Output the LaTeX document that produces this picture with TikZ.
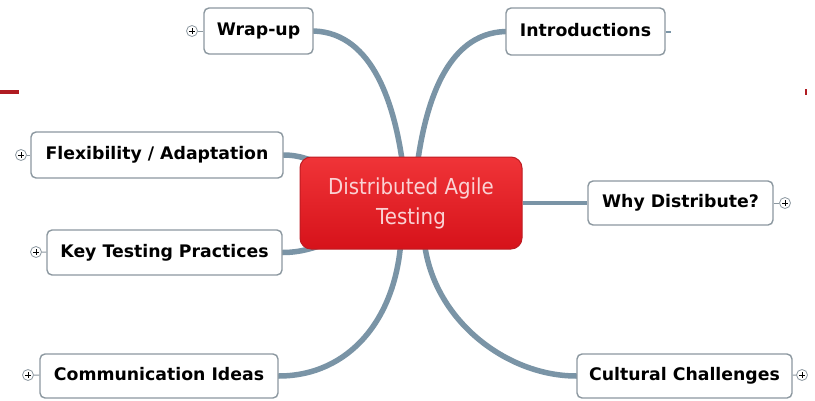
\documentclass[tikz,border=0pt]{standalone}
\usepackage{fontspec}
\setmainfont{DejaVu Sans}
\newfontfamily\centfont[FakeStretch=0.9]{DejaVu Sans}
\usetikzlibrary{calc,backgrounds}
\definecolor{conn}{RGB}{122,148,166}
\definecolor{boxline}{RGB}{140,152,160}
\definecolor{redtop}{RGB}{240,52,56}
\definecolor{redbot}{RGB}{214,18,26}
\definecolor{redline}{RGB}{190,28,34}
\definecolor{ctext}{RGB}{250,210,212}
\definecolor{barred}{RGB}{176,28,34}
\tikzset{
 topic/.style={draw=boxline, line width=1.4pt, rounded corners=5pt, fill=white, align=center, inner sep=0pt, text height=13pt, text depth=4pt, font=\fontsize{17.3}{20}\selectfont\bfseries},
 central/.style={draw=redline, line width=1pt, rounded corners=11pt, top color=redtop, bottom color=redbot, text=ctext, align=center, font=\centfont\fontsize{22}{30}\selectfont, minimum width=222pt, minimum height=92pt},
 branch/.style={draw=conn, line width=5.5pt, line cap=round},
 twig/.style={draw=conn, line width=4pt},
 plus/.style={circle, draw=boxline, line width=0.8pt, fill=white, minimum size=11pt, inner sep=0pt, path picture={\draw[black, line width=0.8pt] ($(path picture bounding box.center)+(-2.8pt,0pt)$) -- ++(5.6pt,0pt) ($(path picture bounding box.center)+(0pt,-2.8pt)$) -- ++(0pt,5.6pt);}},
 pluslink/.style={draw=boxline, line width=1pt}
}
\begin{document}
\begin{tikzpicture}[x=1pt, y=-1pt]
\useasboundingbox (0,0) rectangle (815,400);
\fill[barred] (0,90) rectangle (19,94);
\fill[barred] (805,89) rectangle (807,95);

\node[topic, minimum width=109pt, minimum height=46pt] (wrap) at (258.5,31) {Wrap-up};
\node[topic, minimum width=159pt, minimum height=47pt] (intro) at (585.5,31.5) {Introductions};
\node[topic, minimum width=252pt, minimum height=46pt] (flex) at (157,155) {Flexibility / Adaptation};
\node[central] (c) at (411,203) {Distributed Agile\\Testing};
\node[topic, minimum width=185pt, minimum height=44pt] (why) at (680.5,203) {Why Distribute?};
\node[topic, minimum width=235pt, minimum height=45pt] (key) at (164.5,252.5) {Key Testing Practices};
\node[topic, minimum width=238pt, minimum height=44pt] (comm) at (159,376) {Communication Ideas};
\node[topic, minimum width=215pt, minimum height=44pt] (cult) at (684.5,376) {Cultural Challenges};

\node[plus] (pwrap) at (192,31) {};
\node[plus] (pflex) at (21,155) {};
\node[plus] (pwhy) at (785,203) {};
\node[plus] (pkey) at (36,252) {};
\node[plus] (pcomm) at (28,375) {};
\node[plus] (pcult) at (802,375) {};
\coordinate (istub) at (671,31.5);

\begin{pgfonlayer}{background}
\fill[white] (0,0) rectangle (815,400);
\draw[pluslink] (pwrap) -- (wrap);
\draw[pluslink] (pflex) -- (flex);
\draw[pluslink] (pwhy) -- (why);
\draw[pluslink] (pkey) -- (key);
\draw[pluslink] (pcomm) -- (comm);
\draw[pluslink] (pcult) -- (cult);
\draw[conn, line width=2pt] (intro.east) -- (istub);
\draw[branch] (wrap.east) .. controls +(60,2) and +(-8,-60) .. ($(c.north)+(-8,10)$);
\draw[branch] (intro.west) .. controls +(-60,2) and +(8,-60) .. ($(c.north)+(6,10)$);
\draw[branch] (flex.east) .. controls +(20,0) and +(-15,-2) .. ($(c.west)+(30,-38)$);
\draw[branch] (key.east) .. controls +(23,0) and +(-20,5) .. ($(c.west)+(40,37)$);
\draw[twig] (c.east) -- (why.west);
\draw[branch] ($(c.south)+(-10,-10)$) .. controls +(-5,80) and +(70,0) .. (comm.east);
\draw[branch] ($(c.south)+(13,-10)$) .. controls +(8,80) and +(-70,0) .. (cult.west);
\end{pgfonlayer}
\end{tikzpicture}
\end{document}
